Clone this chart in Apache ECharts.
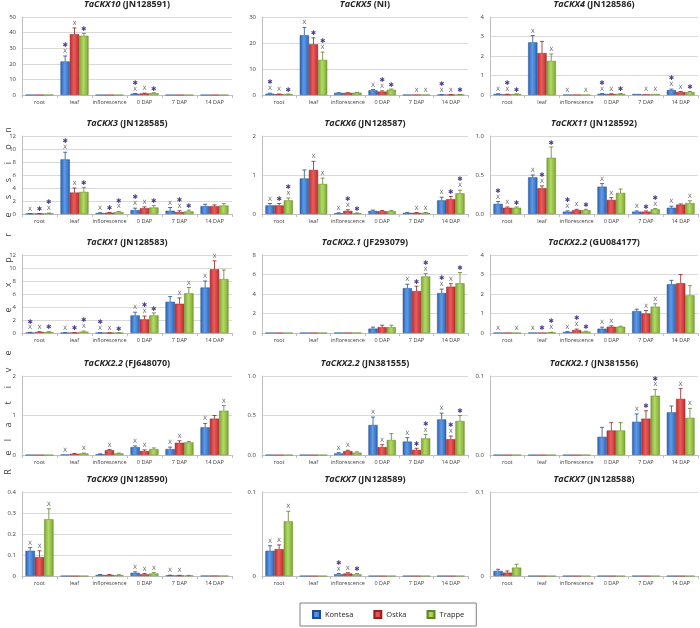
<!DOCTYPE html>
<html><head><meta charset="utf-8">
<script src="https://cdn.jsdelivr.net/npm/echarts/dist/echarts.min.js"></script>
<style>html,body{margin:0;padding:0;background:#fff}#c{width:700px;height:628px}</style>
</head><body><div id="c"></div>
<script>
const categories = ['root','leaf','inflorescence','0 DAP','7 DAP','14 DAP'];
const seriesNames = ['Kontesa','Ostka','Trappe'];

// Panel 1
const p1_title = ['TaCKX10',' (JN128591)'];
const p1_ticks = ['0','10','20','30','40','50'];
const p1_val = [[0.05,21.5,0.02,0.8,0.02,0.02],[0.05,39,0.02,1.0,0.02,0.02],[0.05,38,0.02,1.2,0.02,0.02]];
const p1_err = [[0,3.5,0,0.2,0,0],[0,4,0,0.2,0,0],[0,1.5,0,0.2,0,0]];
const p1_mark = [['','x*','','x*','',''],['','x','','x','',''],['','*','','*','','']];
// Panel 2
const p2_title = ['TaCKX5',' (NI)'];
const p2_ticks = ['0','10','20','30'];
const p2_val = [[0.5,23,0.8,1.8,0.05,0.1],[0.3,19.5,0.8,1.3,0.1,0.1],[0.3,13.5,0.9,2.0,0.1,0.15]];
const p2_err = [[0.2,3,0.1,0.3,0,0.05],[0.1,2.5,0.1,0.3,0,0.05],[0.1,3,0.1,0.3,0,0.05]];
const p2_mark = [['x*','x','','x','','x*'],['x','*','','x*','x','x'],['*','x*','','*','x','*']];
// Panel 3
const p3_title = ['TaCKX4',' (JN128586)'];
const p3_ticks = ['0','1','2','3','4'];
const p3_val = [[0.05,2.7,0.01,0.06,0.05,0.25],[0.03,2.15,0.01,0.05,0.03,0.15],[0.05,1.75,0.01,0.06,0.05,0.15]];
const p3_err = [[0.01,0.35,0,0.01,0,0.05],[0.01,0.6,0,0.01,0,0.03],[0.01,0.35,0,0.01,0,0.03]];
const p3_mark = [['x','x','x','x*','','x*'],['x*','','','x','x','x'],['*','x','x','*','x','*']];
// Panel 4
const p4_title = ['TaCKX3',' (JN128585)'];
const p4_ticks = ['0','2','4','6','8','10','12'];
const p4_val = [[0.05,8.4,0.15,0.6,0.5,1.2],[0.05,3.3,0.2,0.9,0.3,1.2],[0.1,3.4,0.3,1.0,0.4,1.3]];
const p4_err = [[0.02,1.1,0.05,0.3,0.5,0.3],[0.02,0.7,0.05,0.2,0.2,0.2],[0.05,0.7,0.1,0.3,0.2,0.3]];
const p4_mark = [['x','x*','x','x*','x',''],['*','x','*','x','x*',''],['x*','*','x*','*','*','']];
// Panel 5
const p5_title = ['TaCKX6',' (JN128587)'];
const p5_ticks = ['0','1','2'];
const p5_val = [[0.22,0.91,0.02,0.08,0.03,0.35],[0.22,1.13,0.08,0.07,0.03,0.38],[0.35,0.77,0.02,0.07,0.03,0.53]];
const p5_err = [[0.05,0.22,0.01,0.02,0.01,0.08],[0.05,0.22,0.03,0.02,0.01,0.07],[0.06,0.15,0.01,0.02,0.01,0.08]];
const p5_mark = [['x','','x','','','x'],['*','x','x*','','x','*'],['x*','x','*','','x','x*']];
// Panel 6
const p6_title = ['TaCKX11',' (JN128592)'];
const p6_ticks = ['0.0','0.5','1.0'];
const p6_val = [[0.13,0.47,0.03,0.35,0.03,0.08],[0.08,0.33,0.05,0.18,0.03,0.12],[0.08,0.72,0.05,0.27,0.06,0.14]];
const p6_err = [[0.03,0.03,0.01,0.04,0.01,0.02],[0.01,0.03,0.01,0.03,0.01,0.01],[0.01,0.14,0.01,0.05,0.01,0.03]];
const p6_mark = [['x*','x','x*','x','x','x'],['x','x*','x','x','*',''],['*','*','*','','x*','x']];
// Panel 7
const p7_title = ['TaCKX1',' (JN128583)'];
const p7_ticks = ['0','2','4','6','8','10','12'];
const p7_val = [[0.05,0.03,0.02,2.7,4.8,7.0],[0.15,0.03,0.01,2.1,4.5,9.8],[0.15,0.2,0.01,2.7,6.1,8.3]];
const p7_err = [[0.05,0.02,0.01,0.5,0.8,1.0],[0.05,0.02,0.01,0.5,0.9,1.3],[0.05,0.1,0.01,0.4,0.9,1.4]];
const p7_mark = [['x*','x','x*','x','','x'],['x','*','x','x*','x','x'],['*','x*','*','*','x','']];
// Panel 8
const p8_title = ['TaCKX2.1',' (JF293079)'];
const p8_ticks = ['0','2','4','6','8'];
const p8_val = [[0.01,0.01,0.02,0.45,4.6,4.1],[0.01,0.01,0.02,0.6,4.3,4.75],[0.01,0.01,0.02,0.6,5.8,5.1]];
const p8_err = [[0,0,0,0.15,0.4,0.4],[0,0,0,0.2,0.5,0.3],[0,0,0,0.2,0.3,1.1]];
const p8_mark = [['','','','','x','x*'],['','','','','*','x'],['','','','','x*','*']];
// Panel 9
const p9_title = ['TaCKX2.2',' (GU084177)'];
const p9_ticks = ['0','1','2','3','4'];
const p9_val = [[0.01,0.01,0.05,0.22,1.12,2.5],[0.01,0.01,0.15,0.32,1.0,2.55],[0.01,0.03,0.07,0.32,1.35,1.93]];
const p9_err = [[0,0,0.02,0.08,0.1,0.2],[0,0,0.05,0.05,0.15,0.45],[0,0.01,0.02,0.03,0.15,0.5]];
const p9_mark = [['x','x','x','x','',''],['','*','x*','x','x',''],['x','x*','*','','x','']];
// Panel 10
const p10_title = ['TaCKX2.2',' (FJ648070)'];
const p10_ticks = ['0','1','2'];
const p10_val = [[0,0.01,0.02,0.2,0.15,0.7],[0,0.03,0.12,0.1,0.31,0.92],[0,0.04,0.04,0.15,0.32,1.12]];
const p10_err = [[0,0,0.01,0.03,0.05,0.1],[0,0.01,0.02,0.03,0.05,0.08],[0,0.01,0.01,0.03,0.02,0.13]];
const p10_mark = [['','x','','x','x','x'],['','','x','x','x',''],['','x','','','','x']];
// Panel 11
const p11_title = ['TaCKX2.2',' (JN381555)'];
const p11_ticks = ['0.0','0.5','1.0'];
const p11_val = [[0,0,0.02,0.38,0.17,0.45],[0,0,0.05,0.1,0.065,0.2],[0,0,0.03,0.19,0.21,0.43]];
const p11_err = [[0,0,0.01,0.1,0.05,0.08],[0,0,0.01,0.03,0.02,0.04],[0,0,0.01,0.08,0.05,0.07]];
const p11_mark = [['','','x','x','x','x'],['','','x','x','*','x*'],['','','','','x*','*']];
// Panel 12
const p12_title = ['TaCKX2.1',' (JN381556)'];
const p12_ticks = ['0.0','0.1'];
const p12_val = [[0,0,0,0.023,0.042,0.054],[0,0,0,0.031,0.046,0.071],[0,0,0,0.031,0.075,0.047]];
const p12_err = [[0,0,0,0.012,0.01,0.008],[0,0,0,0.01,0.01,0.013],[0,0,0,0.01,0.008,0.012]];
const p12_mark = [['','','','','x',''],['','','','','*','x'],['','','','','x*','x']];
// Panel 13
const p13_title = ['TaCKX9',' (JN128590)'];
const p13_ticks = ['0','0.1','0.2','0.3','0.4'];
const p13_val = [[0.12,0,0.005,0.015,0.003,0.001],[0.09,0,0.005,0.008,0.002,0.001],[0.27,0,0.004,0.012,0.002,0.001]];
const p13_err = [[0.015,0,0.002,0.005,0.001,0],[0.03,0,0.002,0.004,0.001,0],[0.05,0,0.002,0.004,0.001,0]];
const p13_mark = [['x','','','x','x',''],['x','','','x','x',''],['x','','','x','','']];
// Panel 14
const p14_title = ['TaCKX7',' (JN128589)'];
const p14_ticks = ['0','0.1'];
const p14_val = [[0.03,0,0.002,0,0,0],[0.032,0,0.003,0,0,0],[0.065,0,0.002,0,0,0]];
const p14_err = [[0.006,0,0.001,0,0,0],[0.005,0,0.001,0,0,0],[0.012,0,0.001,0,0,0]];
const p14_mark = [['x','','x*','','',''],['x','','x','','',''],['x','','*','','','']];
// Panel 15
const p15_title = ['TaCKX7',' (JN128588)'];
const p15_ticks = ['0','0.1'];
const p15_val = [[0.006,0,0,0,0,0],[0.004,0,0,0,0,0],[0.01,0,0,0,0,0]];
const p15_err = [[0.002,0,0,0,0,0],[0.002,0,0,0,0,0],[0.004,0,0,0,0,0]];
const p15_mark = [['','','','','',''],['','','','','',''],['','','','','','']];

const yTitleText = 'Relative expression';

const panels = [
  [p1_title,p1_ticks,p1_val,p1_err,p1_mark],[p2_title,p2_ticks,p2_val,p2_err,p2_mark],[p3_title,p3_ticks,p3_val,p3_err,p3_mark],
  [p4_title,p4_ticks,p4_val,p4_err,p4_mark],[p5_title,p5_ticks,p5_val,p5_err,p5_mark],[p6_title,p6_ticks,p6_val,p6_err,p6_mark],
  [p7_title,p7_ticks,p7_val,p7_err,p7_mark],[p8_title,p8_ticks,p8_val,p8_err,p8_mark],[p9_title,p9_ticks,p9_val,p9_err,p9_mark],
  [p10_title,p10_ticks,p10_val,p10_err,p10_mark],[p11_title,p11_ticks,p11_val,p11_err,p11_mark],[p12_title,p12_ticks,p12_val,p12_err,p12_mark],
  [p13_title,p13_ticks,p13_val,p13_err,p13_mark],[p14_title,p14_ticks,p14_val,p14_err,p14_mark],[p15_title,p15_ticks,p15_val,p15_err,p15_mark]
];

// layout
const colLeft = [22, 262, 490];
const colWidth = [210, 206, 208];
const rowTop = [17, 136, 255, 376, 492];
const rowHeight = [78, 78, 78, 79, 84];
const letterY = [472,453,440,425,403,387,370,353,null,310,285,260,235,215,197,180,163,147,130];
const colorsEdge = ['#2D62B2','#BE2A2A','#7AA530'];
const colorsMid = ['#5E9BE8','#EA5E5E','#B3DA66'];
const colorsBorder = ['#1F4E92','#952020','#5E8522'];
const errColors = ['#1F4E92','#952020','#5E8522'];
const FONT = 'Open Sans, Liberation Sans, sans-serif';

function grad(s){
  return new echarts.graphic.LinearGradient(0,0,1,0,[
    {offset:0,color:colorsEdge[s]},{offset:0.45,color:colorsMid[s]},{offset:1,color:colorsEdge[s]}]);
}

const grids=[], xAxes=[], yAxes=[], series=[], titles=[];
panels.forEach((p,i)=>{
  const [title,ticks,val,err,mark]=p;
  const row=Math.floor(i/3), col=i%3;
  const interval=parseFloat(ticks[1])-parseFloat(ticks[0]);
  const max=parseFloat(ticks[ticks.length-1]);
  grids.push({left:colLeft[col],top:rowTop[row],width:colWidth[col],height:rowHeight[row]});
  titles.push({
    text:'{i|'+title[0]+'}'+title[1], padding:0,
    left:colLeft[col]+colWidth[col]/2, top:rowTop[row]-17, textAlign:'center',
    textStyle:{fontFamily:FONT,fontSize:9,fontWeight:'bold',color:'#262626',
      rich:{i:{fontFamily:FONT,fontSize:9,fontWeight:'bold',fontStyle:'italic',color:'#262626'}}}
  });
  xAxes.push({type:'category',gridIndex:i,data:categories,
    axisLine:{lineStyle:{color:'#bfbfbf'}},
    axisTick:{show:true,length:3,lineStyle:{color:'#bfbfbf'}},
    axisLabel:{fontFamily:FONT,fontSize:5.5,color:'#404040',margin:4,interval:0}});
  yAxes.push({type:'value',gridIndex:i,min:0,max:max,interval:interval,
    axisLine:{show:true,lineStyle:{color:'#bfbfbf'}},axisTick:{show:false},
    splitLine:{lineStyle:{color:'#d9d9d9',width:1}},
    axisLabel:{fontFamily:FONT,fontSize:6,color:'#404040',margin:6,
      formatter:(v)=>{const k=Math.round(v/interval);return ticks[k]!==undefined?ticks[k]:'';}}});
  for(let s=0;s<3;s++){
    series.push({type:'bar',name:seriesNames[s],xAxisIndex:i,yAxisIndex:i,data:val[s],
      barGap:'0%',barCategoryGap:'20%',animation:false,
      itemStyle:{color:grad(s),borderColor:colorsBorder[s],borderWidth:0.5}});
  }
  const cd=[], cm=[];
  for(let c=0;c<6;c++) for(let s=0;s<3;s++){cd.push([c,val[s][c],s,err[s][c]]);cm.push(mark[s][c]);}
  series.push({type:'custom',xAxisIndex:i,yAxisIndex:i,data:cd,encode:{x:0,y:1},z:5,clip:false,animation:false,silent:true,
    renderItem:(params,api)=>{
      const c=api.value(0), v=api.value(1), s=api.value(2), e=api.value(3);
      const m=cm[params.dataIndex];
      const band=api.size([1,0])[0];
      const bw=band*0.8/3;
      const base=api.coord([c,v]);
      const top=api.coord([c,v+e]);
      const x=base[0]+(s-1)*bw;
      const ch=[];
      if(e>0){
        ch.push({type:'line',shape:{x1:x,y1:base[1],x2:x,y2:top[1]},style:{stroke:errColors[s],lineWidth:0.8}});
        ch.push({type:'line',shape:{x1:x-2,y1:top[1],x2:x+2,y2:top[1]},style:{stroke:errColors[s],lineWidth:0.8}});
      }
      let y=top[1]-1.5;
      for(const k of m){
        if(k==='x'){
          ch.push({type:'text',x:x,y:y,style:{text:'X',fontFamily:'DejaVu Sans',fontSize:6,fill:'#6b6b6b',align:'center',verticalAlign:'bottom'}});
          y-=6.5;
        }else{
          ch.push({type:'text',x:x,y:y+1,style:{text:'✱',fontFamily:'DejaVu Sans',fontSize:6.5,fill:'#4B3B8E',align:'center',verticalAlign:'bottom'}});
          y-=7;
        }
      }
      return {type:'group',children:ch};
    }});
});

// vertical axis title, spaced letters, rotated to read bottom-to-top
const yLetters = yTitleText.split('');
const letterChildren=[];
yLetters.forEach((ch,k)=>{
  if(ch===' ') return;
  letterChildren.push({type:'text',x:-letterY[k],y:0,
    style:{text:ch,fontFamily:FONT,fontSize:9,fill:'#404040',align:'center',verticalAlign:'middle'}});
});

const chart=echarts.init(document.getElementById('c'),null,{renderer:'canvas'});
chart.setOption({
  animation:false,
  title:titles,
  grid:grids, xAxis:xAxes, yAxis:yAxes, series:series,
  graphic:[{type:'group',x:8,y:0,rotation:Math.PI/2,children:letterChildren}],
  legend:{data:seriesNames,left:300,top:603,itemWidth:7,itemHeight:7,itemGap:20,icon:'rect',
    borderColor:'#7f7f7f',borderWidth:1,padding:[7,12],
    textStyle:{fontFamily:FONT,fontSize:7.5,color:'#262626'}}
});
</script></body></html>
